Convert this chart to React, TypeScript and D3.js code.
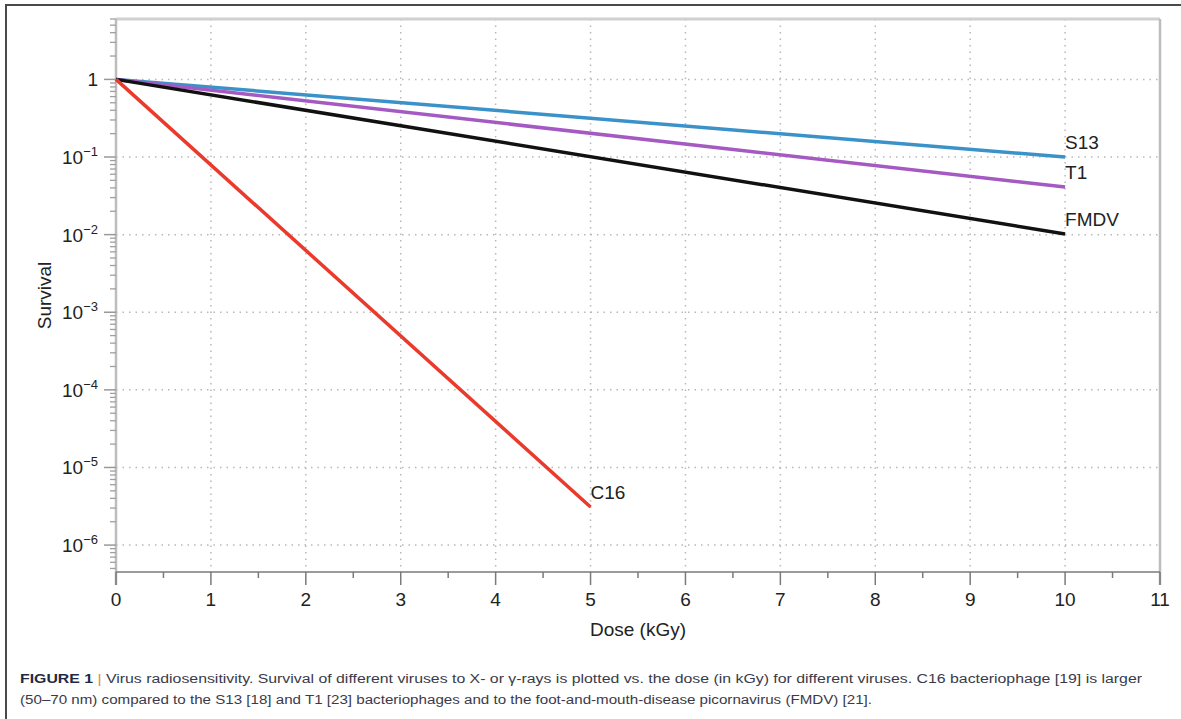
import React, { useEffect } from "react";
import * as d3 from "d3";

// dose in kGy, survival fraction
const s13Dose = [0, 10];
const s13Survival = [1, 0.1];
const t1Dose = [0, 10];
const t1Survival = [1, 0.041];
const fmdvDose = [0, 10];
const fmdvSurvival = [1, 0.0102];
const c16Dose = [0, 5];
const c16Survival = [1, 3.1e-6];

const seriesNames = ["S13", "T1", "FMDV", "C16"];
const seriesColors = ["#3b92c8", "#a45ac2", "#111111", "#ea3a2c"];

const xTicks = [0, 1, 2, 3, 4, 5, 6, 7, 8, 9, 10, 11];
const yDecades = [0, -1, -2, -3, -4, -5, -6];

const captionLine1 =
  " Virus radiosensitivity. Survival of different viruses to X- or \u03b3-rays is plotted vs. the dose (in kGy) for different viruses. C16 bacteriophage [19] is larger";
const captionLine2 =
  "(50\u201370 nm) compared to the S13 [18] and T1 [23] bacteriophages and to the foot-and-mouth-disease picornavirus (FMDV) [21].";

const W = 1181;
const H = 719;
const margin = { left: 116, right: 21, top: 19, bottom: 147 };

function App() {
  useEffect(() => {
    document.body.style.margin = "0";
  }, []);

  const x = d3
    .scaleLinear()
    .domain([0, 11])
    .range([margin.left, W - margin.right]);
  const y = d3
    .scaleLog()
    .domain([4.5e-7, 6])
    .range([H - margin.bottom, margin.top]);

  const [x0, x1] = x.range();
  const [yb, yt] = y.range();

  const series = [
    { dose: s13Dose, surv: s13Survival },
    { dose: t1Dose, surv: t1Survival },
    { dose: fmdvDose, surv: fmdvSurvival },
    { dose: c16Dose, surv: c16Survival },
  ].map((s, i) => ({
    name: seriesNames[i],
    color: seriesColors[i],
    points: s.dose.map((d, j) => [d, s.surv[j]] as [number, number]),
  }));

  const line = d3
    .line<[number, number]>()
    .x((d) => x(d[0]))
    .y((d) => y(d[1]));

  // minor log ticks
  const [lo, hi] = y.domain();
  const minor: number[] = [];
  for (let e = -7; e <= 0; e++) {
    for (let k = 2; k <= 9; k++) {
      const v = k * Math.pow(10, e);
      if (v >= lo && v <= hi) minor.push(v);
    }
  }
  const xMinor = d3.range(0.5, 11, 1);

  const font = "'Liberation Sans', Arial, Helvetica, sans-serif";
  const fs = 19;

  return (
    <svg
      width={W}
      height={H}
      style={{ display: "block", background: "#fff", fontFamily: font }}
    >
      {/* outer frame */}
      <line x1={5} x2={W} y1={5} y2={5} stroke="#4a4a4a" strokeWidth={2} />
      <line x1={6} x2={6} y1={4} y2={H} stroke="#4a4a4a" strokeWidth={2} />

      {/* grid */}
      {xTicks
        .filter((t) => t > 0 && t < 11)
        .map((t) => (
          <line
            key={"gx" + t}
            x1={x(t)}
            x2={x(t)}
            y1={yt}
            y2={yb}
            stroke="#b8b8b8"
            strokeWidth={1.5}
            strokeDasharray="1.5,5"
          />
        ))}
      {yDecades.map((e) => (
        <line
          key={"gy" + e}
          x1={x0}
          x2={x1}
          y1={y(Math.pow(10, e))}
          y2={y(Math.pow(10, e))}
          stroke="#b8b8b8"
          strokeWidth={1.5}
          strokeDasharray="1.5,5"
        />
      ))}

      {/* plot frame */}
      <line x1={x0} x2={x1} y1={yt} y2={yt} stroke="#d0d0d0" strokeWidth={3} />
      <line x1={x1} x2={x1} y1={yt} y2={yb + 13} stroke="#bdbdbd" strokeWidth={2.5} />
      <line x1={x0} x2={x0} y1={yt} y2={yb + 13} stroke="#bdbdbd" strokeWidth={2.5} />

      {/* y ticks */}
      {minor.map((v) => (
        <line
          key={"ym" + v}
          x1={x0 - 6}
          x2={x0}
          y1={y(v)}
          y2={y(v)}
          stroke="#a0a0a0"
          strokeWidth={1.3}
        />
      ))}
      {yDecades.map((e) => (
        <line
          key={"yM" + e}
          x1={x0 - 12}
          x2={x0}
          y1={y(Math.pow(10, e))}
          y2={y(Math.pow(10, e))}
          stroke="#999"
          strokeWidth={1.5}
        />
      ))}
      {yDecades.map((e) => (
        <text
          key={"yl" + e}
          x={x0 - 18}
          y={y(Math.pow(10, e)) + 7}
          textAnchor="end"
          fontSize={fs}
          fill="#222"
        >
          {e === 0 ? (
            "1"
          ) : (
            <>
              10
              <tspan dy={-8} fontSize={13}>
                {"\u2212" + -e}
              </tspan>
            </>
          )}
        </text>
      ))}

      {/* x axis */}
      <line x1={x0} x2={x1} y1={yb} y2={yb} stroke="#7a7a7a" strokeWidth={1.5} />
      {xMinor.map((t) => (
        <line
          key={"xm" + t}
          x1={x(t)}
          x2={x(t)}
          y1={yb}
          y2={yb + 6}
          stroke="#7a7a7a"
          strokeWidth={1.5}
        />
      ))}
      {xTicks.map((t) => (
        <line
          key={"xt" + t}
          x1={x(t)}
          x2={x(t)}
          y1={yb}
          y2={yb + 13}
          stroke="#7a7a7a"
          strokeWidth={1.5}
        />
      ))}
      {xTicks.map((t) => (
        <text
          key={"xl" + t}
          x={x(t)}
          y={yb + 34}
          textAnchor="middle"
          fontSize={fs}
          fill="#222"
        >
          {t}
        </text>
      ))}

      {/* series */}
      {series.map((s) => (
        <path
          key={s.name}
          d={line(s.points) || ""}
          fill="none"
          stroke={s.color}
          strokeWidth={3.5}
        />
      ))}
      {series.map((s) => {
        const last = s.points[s.points.length - 1];
        return (
          <text
            key={"lab" + s.name}
            x={x(last[0])}
            y={y(last[1]) - 8}
            fontSize={fs}
            fill="#222"
          >
            {s.name}
          </text>
        );
      })}

      {/* axis titles */}
      <text
        x={(x0 + x1) / 2}
        y={yb + 64}
        textAnchor="middle"
        fontSize={fs}
        fill="#222"
      >
        Dose (kGy)
      </text>
      <text
        transform={`translate(51, ${(yt + yb) / 2}) rotate(-90)`}
        textAnchor="middle"
        fontSize={fs}
        fill="#222"
      >
        Survival
      </text>

      {/* caption */}
      <text x={20} y={683} fontSize={12} fill="#3a3a4a" textLength={1122} lengthAdjust="spacingAndGlyphs">
        <tspan fontWeight="bold" fill="#1f2a44">FIGURE 1</tspan>
        <tspan fill="#e0892a"> |</tspan>
        {captionLine1}
      </text>
      <text x={20} y={704} fontSize={12} fill="#3a3a4a" textLength={852} lengthAdjust="spacingAndGlyphs">
        {captionLine2}
      </text>
    </svg>
  );
}

export default App;
